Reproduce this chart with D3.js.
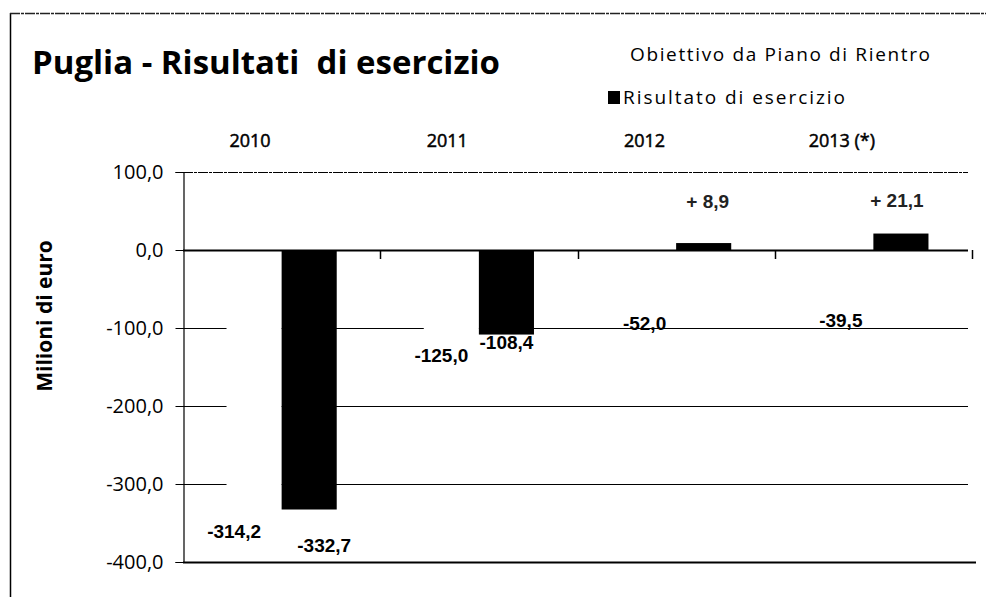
<!DOCTYPE html>
<html>
<head>
<meta charset="utf-8">
<script src="https://cdn.jsdelivr.net/npm/d3@7"></script>
<style>
  body { margin: 0; background: #fff; }
  svg { display: block; font-family: "Open Sans", sans-serif; }
  text { white-space: pre; }
</style>
</head>
<body>
<svg></svg>
<script>
// data
const years = ["2010", "2011", "2012", "2013 (*)"];
const series = ["Obiettivo da Piano di Rientro", "Risultato di esercizio"];
const obiettivo = [-314.2, -125.0, -52.0, -39.5];
const risultato = [-332.7, -108.4, 8.9, 21.1];
const yTicks = [100, 0, -100, -200, -300, -400];

const width = 986, height = 597;
const margin = {top: 172, right: 18, bottom: 35, left: 183};

let svg = d3.select("svg")
    .attr("width", width)
    .attr("height", height);

// frame
svg.append("line").attr("x1", 10.5).attr("x2", 10.5).attr("y1", 13).attr("y2", height)
    .attr("stroke", "#000").attr("stroke-width", 1.5);
svg.append("line").attr("x1", 10).attr("x2", width).attr("y1", 13.5).attr("y2", 13.5)
    .attr("stroke", "#222").attr("stroke-width", 1.5).attr("stroke-dasharray", "10,1,3,1");

let x = d3.scaleBand()
    .domain(years)
    .range([margin.left, width - margin.right + 4]);

let xSub = d3.scaleBand()
    .domain(series)
    .range([0, x.bandwidth()])
    .paddingOuter(0.79);

let y = d3.scaleLinear()
    .domain([-400, 100])
    .range([height - margin.bottom, margin.top]);

const fmt = v => d3.format(".1f")(v).replace(".", ",").replace("−", "-");
const crisp = v => Math.round(v) + 0.5;

// gridlines
svg.append("g")
    .selectAll("line")
    .data(yTicks)
    .enter()
    .append("line")
    .attr("x1", margin.left)
    .attr("x2", d => d === -400 ? width - 10 : width - margin.right)
    .attr("y1", d => crisp(y(d)))
    .attr("y2", d => crisp(y(d)))
    .attr("stroke", "#000")
    .attr("stroke-width", d => (d === -400 || d === 0) ? 2 : 1)
    .attr("stroke-dasharray", d => d === 100 ? "10,1,3,1" : null);

// y axis
let yAxis = svg.append("g")
    .attr("transform", `translate(${crisp(margin.left)},0)`)
    .call(d3.axisLeft(y).tickValues(yTicks).tickSize(8).tickPadding(12).tickFormat(fmt));
yAxis.select(".domain").attr("stroke", "#000").attr("stroke-width", 1.2);
yAxis.selectAll(".tick line").attr("stroke", "#000");
yAxis.selectAll("text")
    .attr("font-size", 20)
    .attr("fill", "#000")
    .attr("font-family", "'Open Sans', sans-serif");

// category ticks on zero line
svg.append("g")
    .selectAll("line")
    .data(years)
    .enter()
    .append("line")
    .attr("x1", d => crisp(x(d) + x.bandwidth()))
    .attr("x2", d => crisp(x(d) + x.bandwidth()))
    .attr("y1", y(0))
    .attr("y2", y(0) + 9)
    .attr("stroke", "#000")
    .attr("stroke-width", 1.5);

// bars: objective bars are white, covering gridlines
let groups = svg.append("g")
    .selectAll("g")
    .data(years)
    .enter()
    .append("g")
    .attr("transform", d => `translate(${x(d)},0)`);

groups.append("rect")
    .attr("x", xSub(series[0]))
    .attr("width", xSub.bandwidth())
    .attr("y", (d, i) => y(Math.max(0, obiettivo[i])) + 2)
    .attr("height", (d, i) => Math.abs(y(obiettivo[i]) - y(0)))
    .attr("fill", "#fff");

groups.append("rect")
    .attr("x", xSub(series[1]))
    .attr("width", xSub.bandwidth())
    .attr("y", (d, i) => y(Math.max(0, risultato[i])))
    .attr("height", (d, i) => Math.abs(y(risultato[i]) - y(0)))
    .attr("fill", "#000");

// data labels
const obNudge = [[-20, 36], [-10, 8], [-4, 33], [-5, 40]];
const reNudge = [[15, 36], [0, 8], [4, -42], [-4, -33]];

groups.append("text")
    .attr("x", (d, i) => xSub(series[0]) + xSub.bandwidth() / 2 + obNudge[i][0])
    .attr("y", (d, i) => y(obiettivo[i]) + obNudge[i][1])
    .attr("text-anchor", "middle")
    .attr("dy", "0.35em")
    .attr("font-size", 19)
    .attr("font-weight", "bold")
    .attr("font-family", "'Liberation Sans', Arial, sans-serif")
    .text((d, i) => fmt(obiettivo[i]));

groups.append("text")
    .attr("x", (d, i) => xSub(series[1]) + xSub.bandwidth() / 2 + reNudge[i][0])
    .attr("y", (d, i) => y(risultato[i]) + reNudge[i][1])
    .attr("text-anchor", "middle")
    .attr("dy", "0.35em")
    .attr("font-size", 19)
    .attr("font-weight", "bold")
    .attr("font-family", "'Liberation Sans', Arial, sans-serif")
    .attr("fill", (d, i) => risultato[i] > 0 ? "#222" : "#000")
    .text((d, i) => risultato[i] > 0 ? "+ " + fmt(risultato[i]) : fmt(risultato[i]));

// category labels at top
svg.append("g")
    .selectAll("text")
    .data(years)
    .enter()
    .append("text")
    .attr("x", d => x(d) + xSub(series[0]) + xSub.bandwidth() / 2 - 4)
    .attr("y", 147)
    .attr("text-anchor", "middle")
    .attr("font-size", 18)
    .attr("stroke", "#000")
    .attr("stroke-width", 0.5)
    .text(d => d);

// title
svg.append("text")
    .attr("x", 32)
    .attr("y", 74)
    .attr("font-size", 32)
    .attr("font-weight", "bold")
    .attr("textLength", 468)
    .attr("lengthAdjust", "spacingAndGlyphs")
    .text("Puglia - Risultati  di esercizio");

// legend
svg.append("text")
    .attr("x", 630)
    .attr("y", 61)
    .attr("font-size", 19)
    .attr("textLength", 300)
    .attr("lengthAdjust", "spacing")
    .text(series[0]);
svg.append("rect")
    .attr("x", 608).attr("y", 91).attr("width", 12).attr("height", 13)
    .attr("fill", "#000");
svg.append("text")
    .attr("x", 623)
    .attr("y", 104)
    .attr("font-size", 19)
    .attr("textLength", 222)
    .attr("lengthAdjust", "spacing")
    .text(series[1]);

// y axis title
svg.append("text")
    .attr("transform", "translate(52, 316) rotate(-90)")
    .attr("text-anchor", "middle")
    .attr("font-size", 21)
    .attr("font-weight", "bold")
    .text("Milioni di euro");
</script>
</body>
</html>
